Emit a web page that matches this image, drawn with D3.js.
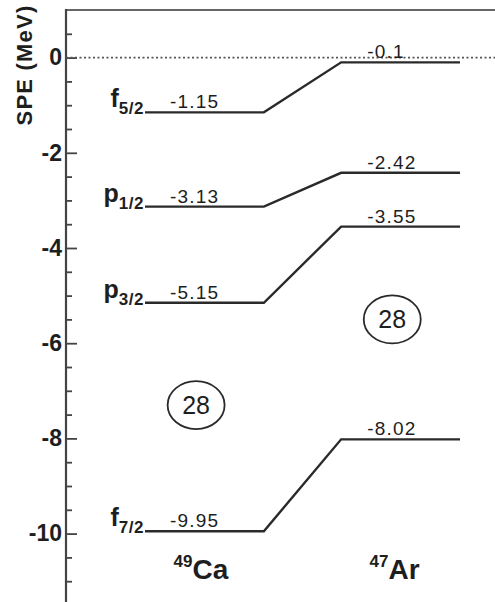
<!DOCTYPE html>
<html>
<head>
<meta charset="utf-8">
<script src="https://cdn.jsdelivr.net/npm/d3@7"></script>
<style>
  html, body { margin: 0; padding: 0; background: #fff; }
  svg { display: block; }
  text { font-family: "Liberation Sans", Arial, Helvetica, sans-serif; fill: #1e1e1e; }
</style>
</head>
<body>
<svg id="chart" width="495" height="602"></svg>
<script>
// ---- data ----
const orbitalLetters = ["f", "p", "p", "f"];
const orbitalJ = ["7/2", "3/2", "1/2", "5/2"];
const ca49 = [-9.95, -5.15, -3.13, -1.15];
const ar47 = [-8.02, -3.55, -2.42, -0.1];
const ca49Labels = ["-9.95", "-5.15", "-3.13", "-1.15"];
const ar47Labels = ["-8.02", "-3.55", "-2.42", "-0.1"];
const nucleiMass = ["49", "47"];
const nucleiSym = ["Ca", "Ar"];
const gapLabel = "28";
const gapEnergy = [-7.3, -5.5];          // vertical position of the circled 28 (Ca, Ar)
const yMajorTicks = [0, -2, -4, -6, -8, -10];
const yMinorTicks = [0.5, -0.5, -1, -1.5, -2.5, -3, -3.5, -4.5, -5, -5.5, -6.5, -7, -7.5, -8.5, -9, -9.5, -10.5, -11];
const yTitle = "SPE (MeV)";

// ---- layout ----
const W = 495, H = 602;
const axisX = 66, topY = 10;
const svg = d3.select("#chart");

const y = d3.scaleLinear().domain([1, -11.5]).range([topY, topY + 12.5 * 47.6]);
// x in "level units": Ca level spans [0,1], Ar level spans [1.65,2.65]
const x = d3.scaleLinear().domain([0, 2.65]).range([145, 460]);
const caStart = 0, caEnd = 1, arStart = 1.65, arEnd = 2.65;

// frame: top border + y axis line
svg.append("line").attr("x1", axisX).attr("x2", W).attr("y1", topY).attr("y2", topY)
  .attr("stroke", "#666").attr("stroke-width", 2);
svg.append("line").attr("x1", axisX).attr("x2", axisX).attr("y1", topY - 1).attr("y2", H)
  .attr("stroke", "#444").attr("stroke-width", 2.2);

// y axis ticks
const gMinor = svg.append("g").attr("transform", `translate(${axisX},0)`)
  .call(d3.axisLeft(y).tickValues(yMinorTicks).tickSize(-6).tickFormat(""));
gMinor.select(".domain").remove();
gMinor.selectAll("line").attr("stroke", "#444").attr("stroke-width", 1.8);

const gMajor = svg.append("g").attr("transform", `translate(${axisX},0)`)
  .call(d3.axisLeft(y).tickValues(yMajorTicks).tickSize(-11).tickPadding(4).tickFormat(d => String(d)));
gMajor.select(".domain").remove();
gMajor.selectAll("line").attr("stroke", "#444").attr("stroke-width", 1.8);
gMajor.selectAll("text").attr("font-size", 23).attr("font-weight", "bold")
  .attr("font-family", "'Liberation Sans', Arial, sans-serif").attr("fill", "#1e1e1e");

// y title
svg.append("text")
  .attr("transform", `translate(32,${65}) rotate(-90)`)
  .attr("text-anchor", "middle")
  .attr("font-size", 22).attr("font-weight", "bold")
  .attr("letter-spacing", 1.2)
  .text(yTitle);

// zero dotted line
svg.append("line").attr("x1", axisX).attr("x2", W).attr("y1", y(0)).attr("y2", y(0))
  .attr("stroke", "#555").attr("stroke-width", 1.6).attr("stroke-dasharray", "2,2.5");

// level lines with connectors
const line = d3.line().x(d => x(d[0])).y(d => y(d[1]));
ca49.forEach((c, i) => {
  const a = ar47[i];
  svg.append("path")
    .attr("d", line([[caStart, c], [caEnd, c], [arStart, a], [arEnd, a]]))
    .attr("fill", "none").attr("stroke", "#2a2a2a").attr("stroke-width", 2.4);

  // value labels
  svg.append("text").attr("x", x(caStart + 0.21)).attr("y", y(c) - 4)
    .attr("font-size", 19).attr("letter-spacing", 1.2).text(ca49Labels[i]);
  svg.append("text").attr("x", x(arStart + 0.22)).attr("y", y(a) - 4)
    .attr("font-size", 19).attr("letter-spacing", 1.2).text(ar47Labels[i]);

  // orbital label
  const t = svg.append("text").attr("x", x(caStart) - 1).attr("y", y(c) - 5)
    .attr("text-anchor", "end").attr("font-weight", "bold");
  t.append("tspan").attr("font-size", 25).text(orbitalLetters[i]);
  t.append("tspan").attr("font-size", 17).attr("dy", 7).attr("letter-spacing", 0.5).text(orbitalJ[i]);
});

// circled 28 gap markers
const gapX = [caStart + 0.43, arStart + 0.43];
gapX.forEach((gx, i) => {
  svg.append("ellipse").attr("cx", x(gx)).attr("cy", y(gapEnergy[i]))
    .attr("rx", 28.5).attr("ry", 24)
    .attr("fill", "none").attr("stroke", "#2a2a2a").attr("stroke-width", 1.8);
  svg.append("text").attr("x", x(gx)).attr("y", y(gapEnergy[i]))
    .attr("text-anchor", "middle").attr("dy", "0.36em")
    .attr("font-size", 25).text(gapLabel);
});

// nucleus labels
const nucX = [caStart + 0.47, arStart + 0.45];
nucX.forEach((nx, i) => {
  const t = svg.append("text").attr("x", x(nx)).attr("y", y(-10.95))
    .attr("text-anchor", "middle").attr("font-weight", "bold");
  t.append("tspan").attr("font-size", 17).attr("dy", -12).text(nucleiMass[i]);
  t.append("tspan").attr("font-size", 28).attr("dy", 12).text(nucleiSym[i]);
});
</script>
</body>
</html>
